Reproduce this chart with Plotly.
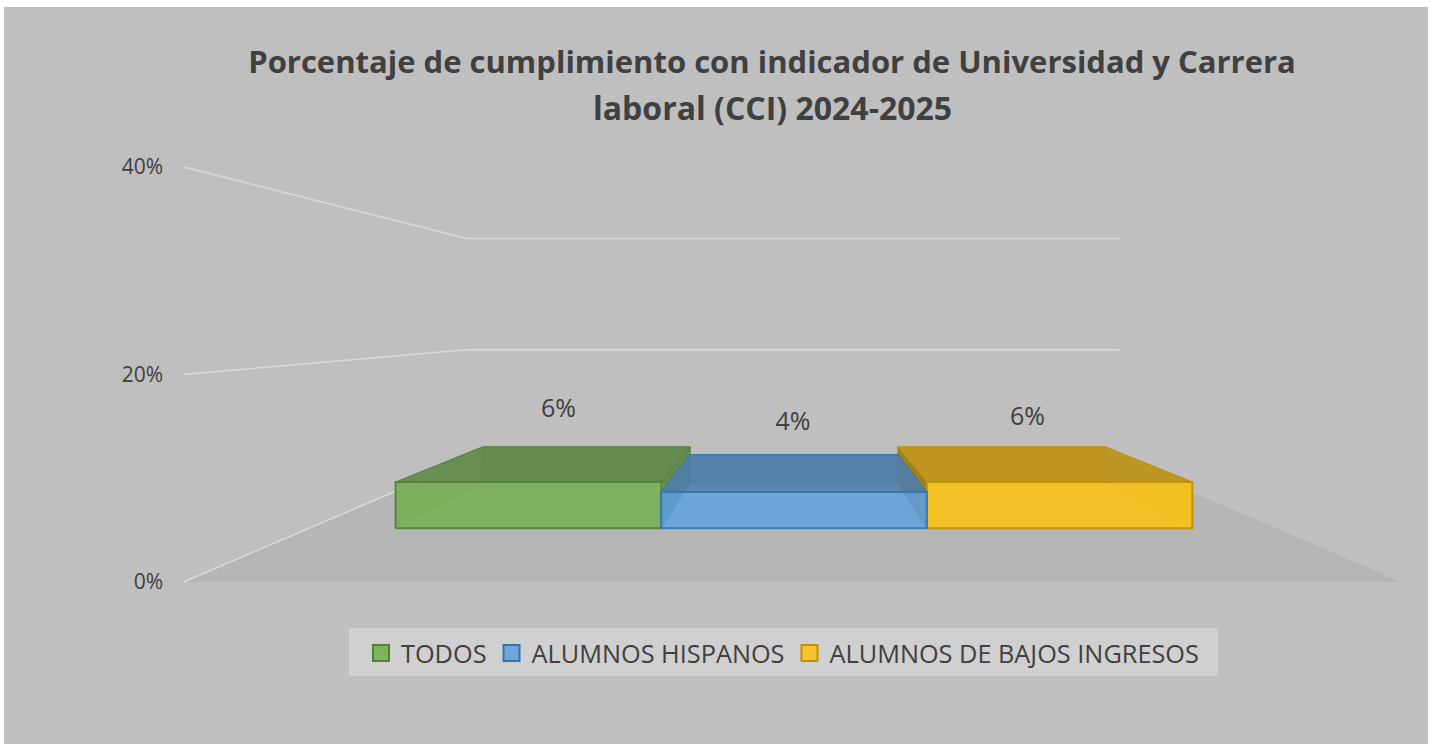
import plotly.graph_objects as go

# ---- data ----
series_names = ["TODOS", "ALUMNOS HISPANOS", "ALUMNOS DE BAJOS INGRESOS"]
series_values = [0.056, 0.044, 0.056]
label_lift = [0.050, 0.046, 0.042]
label_shift = [-0.006, -0.003, 0.0]
tick_values = [0, 0.2, 0.4]
title_lines = ["Porcentaje de cumplimiento con indicador de Universidad y Carrera",
               "laboral (CCI) 2024-2025"]

# ---- style ----
DARK = [(84, 130, 53), (46, 117, 182), (191, 144, 0)]
TOPC = [(94, 136, 72), (78, 126, 170), (190, 147, 20)]
SIDEC = [(84, 125, 58), (70, 125, 170), (150, 112, 10)]
FRONT = ["rgba(122,175,88,0.90)", "rgba(92,160,225,0.80)", "rgba(246,194,27,0.93)"]
BACK_A, TOP_A = 0.5, 0.86
SIDE_A_LEFT = [0.25, 0.3, 0.75]
SIDE_A_RIGHT = [0.72, 0.3, 0.25]
DRAW_ORDER = [0, 2, 1]
LEGEND_FILL = ["#7fb35f", "#6ea6da", "#f7c52a"]
TEXT = "#404040"
GRID = "#d9d9d9"
BG = "#bfbfbf"
FLOOR = "#b6b6b6"
LEGEND_BG = "#d0d0d0"

# ---- 3-D view: one oblique perspective, expressed in the axes' own units ----
VANISH_X, VANISH_Y = 1.5, 0.2516
FLOOR_L, FLOOR_R = -0.325, 3.315
BAR_D0, BAR_D1 = 0.30, 0.707
K = 0.866


def project(u, d, v):
    s = 1 / (1 + K * d)
    return VANISH_X + (u - VANISH_X) * s, VANISH_Y + (v - VANISH_Y) * s


def poly(points):
    pts = [project(*p) for p in points]
    pts.append(pts[0])
    return [p[0] for p in pts], [p[1] for p in pts]


def rgba(c, a):
    return f"rgba({c[0]},{c[1]},{c[2]},{a})"


fig = go.Figure()


def face(points, fill, line, width=1.5):
    xs, ys = poly(points)
    fig.add_trace(go.Scatter(x=xs, y=ys, mode="lines", fill="toself", fillcolor=fill,
                             line=dict(color=line, width=width), showlegend=False,
                             hoverinfo="skip"))


# floor
xs, ys = poly([(FLOOR_L, 0, 0), (FLOOR_R, 0, 0), (FLOOR_R, 1, 0), (FLOOR_L, 1, 0)])
fig.add_trace(go.Scatter(x=xs, y=ys, mode="lines", fill="toself", fillcolor=FLOOR,
                         line=dict(width=0), showlegend=False, hoverinfo="skip"))

# walls' gridlines
for t in tick_values:
    pts = [project(FLOOR_L, 0, t), project(FLOOR_L, 1, t), project(FLOOR_R, 1, t)]
    fig.add_trace(go.Scatter(x=[p[0] for p in pts], y=[p[1] for p in pts], mode="lines",
                             line=dict(color=GRID, width=1.5), showlegend=False, hoverinfo="skip"))

# bars
for i in DRAW_ORDER:
    v = series_values[i]
    a, b = i, i + 1
    dk = DARK[i]
    face([(a, BAR_D1, 0), (b, BAR_D1, 0), (b, BAR_D1, v), (a, BAR_D1, v)], rgba(TOPC[i], BACK_A), rgba(dk, 0.5), 1)
    face([(a, BAR_D0, 0), (a, BAR_D1, 0), (a, BAR_D1, v), (a, BAR_D0, v)], rgba(SIDEC[i], SIDE_A_LEFT[i]), rgba(dk, 0.5), 1)
    face([(b, BAR_D0, 0), (b, BAR_D1, 0), (b, BAR_D1, v), (b, BAR_D0, v)], rgba(SIDEC[i], SIDE_A_RIGHT[i]), rgba(dk, 0.5), 1)
    face([(a, BAR_D0, v), (b, BAR_D0, v), (b, BAR_D1, v), (a, BAR_D1, v)], rgba(TOPC[i], TOP_A), rgba(dk, 0.8), 1)
    face([(a, BAR_D0, 0), (b, BAR_D0, 0), (b, BAR_D0, v), (a, BAR_D0, v)], FRONT[i], rgba(dk, 0.9), 2)

# data labels
label_pts = [project(i + 0.5, 0.5, v) for i, v in enumerate(series_values)]
fig.add_trace(go.Scatter(
    x=[p[0] + s for p, s in zip(label_pts, label_shift)],
    y=[p[1] + l for p, l in zip(label_pts, label_lift)],
    mode="text",
    text=[f"{v:.0%}" for v in series_values],
    textposition="middle center",
    textfont=dict(family="Open Sans", size=25, color=TEXT),
    showlegend=False, hoverinfo="skip"))

# legend entries
for i, name in enumerate(series_names):
    fig.add_trace(go.Scatter(x=[None], y=[None], mode="markers", name=name,
                             marker=dict(symbol="square", size=16, color=LEGEND_FILL[i],
                                         line=dict(color=rgba(DARK[i], 1), width=2))))

W, H = 1437, 744
LEFT, TOP, RIGHT = 4, 7, 1428
UNIT_PX = 334.6
X0_PX = 794 - 1.5 * UNIT_PX
Y_PX = 1037.5

fig.update_layout(
    width=W, height=H,
    margin=dict(l=0, r=0, t=0, b=0, autoexpand=False),
    paper_bgcolor="white",
    plot_bgcolor=BG,
    font=dict(family="Open Sans", color=TEXT),
    title=dict(text=f"<b>{title_lines[0]}</b>", x=772 / W, xanchor="center", y=1 - 62 / H, yanchor="middle",
               font=dict(family="Open Sans", size=31, color=TEXT)),
    annotations=[dict(text=f"<b>{title_lines[1]}</b>", xref="paper", yref="paper", x=772 / W, xanchor="center",
                      y=1 - 108 / H, yanchor="middle", showarrow=False,
                      font=dict(family="Open Sans", size=32, color=TEXT))],
    shapes=[dict(type="rect", xref="paper", yref="paper", x0=349 / W, x1=1218 / W,
                 y0=1 - 676 / H, y1=1 - 628 / H, fillcolor=LEGEND_BG, line=dict(width=0), layer="above")],
    showlegend=True,
    legend=dict(orientation="h", x=361 / W, xanchor="left", y=1 - 630 / H, yanchor="top",
                bgcolor="rgba(0,0,0,0)", borderwidth=0, itemwidth=30,
                font=dict(family="Open Sans", size=25.3, color=TEXT),
                itemclick=False, itemdoubleclick=False),
    xaxis=dict(domain=[LEFT / W, RIGHT / W],
               range=[(LEFT - X0_PX) / UNIT_PX, (RIGHT - X0_PX) / UNIT_PX],
               visible=False, fixedrange=True),
    yaxis=dict(domain=[0, 1 - TOP / H],
               range=[(582 - H) / Y_PX, (582 - TOP) / Y_PX],
               anchor="free", position=163 / W,
               tickvals=tick_values, tickformat=".0%", showgrid=False, zeroline=False,
               showline=False, ticks="", fixedrange=True,
               tickfont=dict(family="Open Sans", size=21, color=TEXT)),
)

fig.write_html("out.html", config={"displayModeBar": False},
               post_script="document.body.style.margin='0';document.body.style.overflow='hidden';")
